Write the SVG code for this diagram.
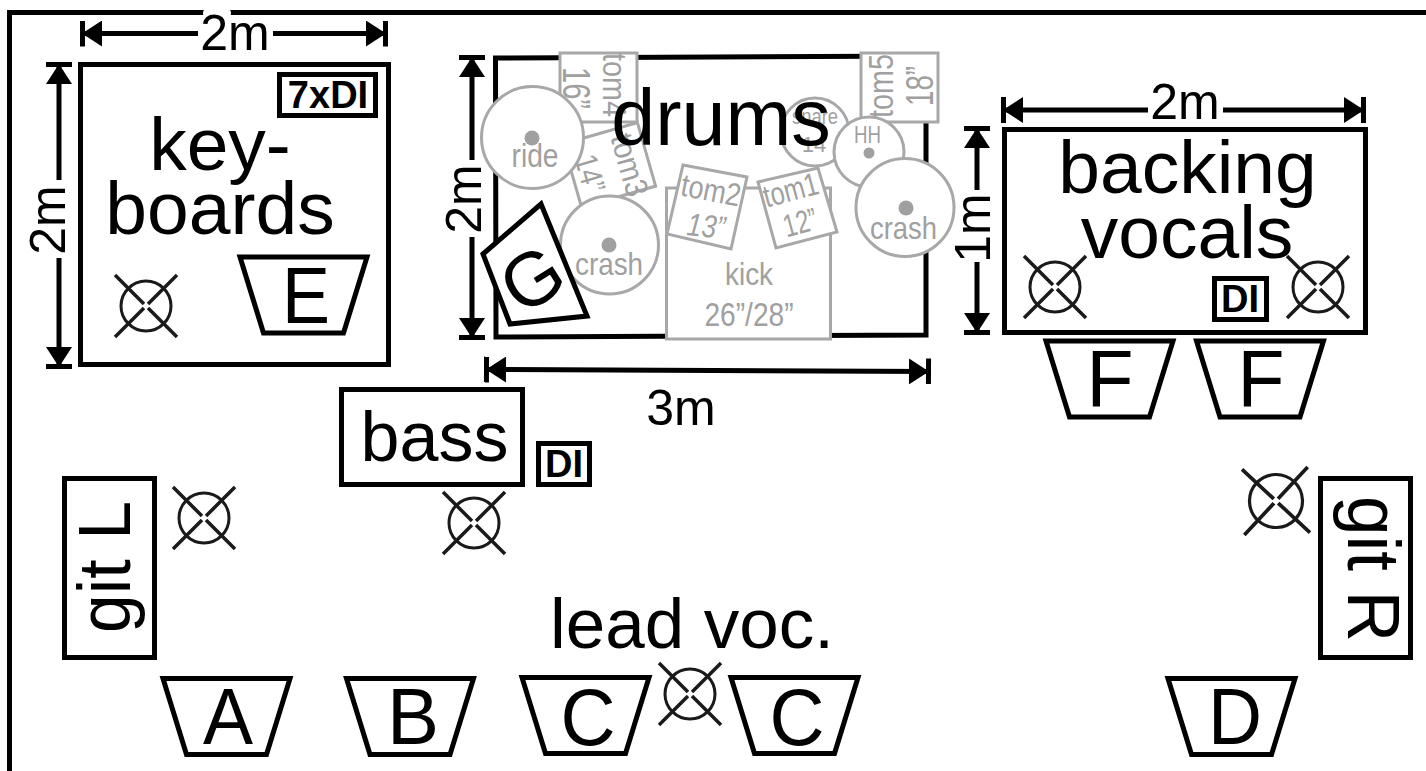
<svg xmlns="http://www.w3.org/2000/svg" width="1426" height="771" viewBox="0 0 1426 771">
<defs>
<marker id="a" viewBox="0 0 27 26" refX="25" refY="13" markerWidth="27" markerHeight="26" markerUnits="userSpaceOnUse" orient="auto-start-reverse"><path d="M3 0L23 13L3 26Z" fill="#000"/><path d="M22.500 0V26" stroke="#000" stroke-width="5" fill="none"/></marker>
<g id="mic"><circle r="25" fill="none" stroke="#1a1a1a" stroke-width="3"/><path d="M-31-31L-2-2M31-31L2-2M-31 31L-2 2M31 31L2 2" fill="none" stroke="#1a1a1a" stroke-width="3.500"/></g>
<path id="wedge" d="M-63.500-38H63.500L40 38H-40Z" class="k"/>
</defs>
<style>
text{font-family:"Liberation Sans",Arial,sans-serif;fill:#000;text-anchor:middle}
.k{fill:#fff;stroke:#000;stroke-width:5}
.g{fill:#fff;stroke:#a8a8a8;stroke-width:3}
text.gt{fill:#a0a0a0}
.d{fill:#a0a0a0;stroke:none}
.line{fill:none;stroke:#000;stroke-width:5;marker-start:url(#a);marker-end:url(#a)}
.ls{fill:none;stroke:#000;stroke-width:5;marker-start:url(#a)}
.le{fill:none;stroke:#000;stroke-width:5;marker-end:url(#a)}
.w{font-size:80px}
.b{font-weight:bold;font-size:38px}
.h{font-size:50px}
</style>
<rect width="1426" height="771" fill="#fff"/>
<path id="frame" d="M9.500 771V12.500H1426" fill="none" stroke="#000" stroke-width="5"/>

<g id="drums">
<path d="M495.500 58L926 56V335L496 337Z" fill="#fff" stroke="#000" stroke-width="5"/>
<g id="tom4"><rect x="560" y="53" width="77" height="69" class="g"/><text transform="translate(603 85) rotate(90)" font-size="33" class="gt" textLength="64" lengthAdjust="spacingAndGlyphs">tom4</text><text transform="translate(563 88) rotate(90)" font-size="38" class="gt" textLength="42" lengthAdjust="spacingAndGlyphs">16”</text></g>
<g id="tom3"><g transform="translate(609.500 165) rotate(-16)"><rect x="-38.500" y="-33" width="77" height="66" class="g"/></g><text transform="translate(619 168) rotate(74)" font-size="32" class="gt" textLength="64" lengthAdjust="spacingAndGlyphs">tom3</text><text transform="translate(579.500 176.500) rotate(74)" font-size="32" class="gt" textLength="38" lengthAdjust="spacingAndGlyphs">14”</text></g>
<g id="kick"><rect x="666.500" y="188" width="164" height="151" class="g"/><text x="749" y="285" font-size="32" class="gt" textLength="48" lengthAdjust="spacingAndGlyphs">kick</text><text x="749" y="326" font-size="33" class="gt" textLength="89" lengthAdjust="spacingAndGlyphs">26”/28”</text></g>
<g id="tom2"><path d="M683 165L747 177L731 249L667 234Z" class="g"/><text transform="translate(709 201) rotate(11)" font-size="32" class="gt" textLength="60" lengthAdjust="spacingAndGlyphs">tom2</text><text transform="translate(705 237) rotate(6)" font-size="32" font-style="italic" class="gt" textLength="38" lengthAdjust="spacingAndGlyphs">13”</text></g>
<g id="tom1"><path d="M758 182L818 168L837 232L776 248Z" class="g"/><text transform="translate(793.500 200.500) rotate(-15)" font-size="32" class="gt" textLength="56" lengthAdjust="spacingAndGlyphs">tom1</text><text transform="translate(803 233) rotate(-15)" font-size="32" class="gt" textLength="34" lengthAdjust="spacingAndGlyphs">12”</text></g>
<g id="tom5"><rect x="861" y="53" width="77" height="69" class="g"/><text transform="translate(893 86) rotate(-90)" font-size="35" class="gt" textLength="64" lengthAdjust="spacingAndGlyphs">tom5</text><text transform="translate(933 86) rotate(-90)" font-size="38" class="gt" textLength="40" lengthAdjust="spacingAndGlyphs">18”</text></g>
<g id="ride"><circle cx="532.500" cy="137.500" r="51" class="g"/><circle cx="532" cy="138" r="7.500" class="d"/><text x="535" y="167" font-size="34" class="gt" textLength="47" lengthAdjust="spacingAndGlyphs">ride</text></g>
<g id="snare"><circle cx="815" cy="132" r="34" class="g"/><text x="815" y="124" font-size="22" class="gt" textLength="46" lengthAdjust="spacingAndGlyphs">snare</text><text x="814" y="152" font-size="22" class="gt">14</text></g>
<g id="hh"><circle cx="869" cy="152" r="35" class="g"/><circle cx="869" cy="153" r="5.500" class="d"/><text x="867.500" y="143" font-size="24" class="gt" textLength="27" lengthAdjust="spacingAndGlyphs">HH</text></g>
<g id="crash1"><circle cx="609.500" cy="245" r="49" class="g"/><circle cx="609" cy="245" r="7.500" class="d"/><text x="609" y="275" font-size="32" class="gt" textLength="68" lengthAdjust="spacingAndGlyphs">crash</text></g>
<g id="crash2"><circle cx="905" cy="207.500" r="49" class="g"/><circle cx="906" cy="208" r="7.500" class="d"/><text x="903.500" y="239" font-size="32" class="gt" textLength="67" lengthAdjust="spacingAndGlyphs">crash</text></g>
<text id="drums-label" x="721" y="145" font-size="79">drums</text>
<g id="G"><path d="M483 254L541 204L587 316L510 324Z" class="k"/><text transform="translate(546 301) rotate(-32)" font-size="76">G</text></g>
</g>

<g id="dim-drums">
<path class="ls" d="M472 55V160"/>
<path class="le" d="M472 237V340"/>
<text class="h" transform="translate(481 199) rotate(-90)">2m</text>
<path class="line" d="M484 369.500L931 371.500"/>
<text x="681" y="425" class="h">3m</text>
</g>

<g id="keyboards">
<rect x="80.500" y="64.500" width="308" height="300" class="k"/>
<text x="220" y="170" font-size="75">key-</text>
<text x="220" y="234" font-size="75">boards</text>
<g id="di7"><rect x="279.500" y="74.500" width="96" height="41" class="k"/><text x="328" y="108" class="b">7xDI</text></g>
<use href="#mic" x="146" y="306"/>
<g id="wedge-E"><use href="#wedge" x="303.500" y="295"/><text x="306" y="323" class="w" textLength="48" lengthAdjust="spacingAndGlyphs">E</text></g>
</g>
<g id="dim-keyboards">
<rect x="203" y="9" width="28" height="8" rx="4" fill="#fff"/>
<path class="ls" d="M80 33.500H198"/>
<path class="le" d="M273 33.500H388"/>
<text class="h" x="235" y="50">2m</text>
<path class="ls" d="M59 62V180"/>
<path class="le" d="M59 258V369"/>
<text class="h" transform="translate(65 220) rotate(-90)">2m</text>
</g>

<g id="backing-vocals">
<rect x="1004.500" y="129.500" width="361" height="203" class="k"/>
<text x="1187.500" y="193" font-size="75">backing</text>
<text x="1187" y="258" font-size="75">vocals</text>
<use href="#mic" x="1055" y="287"/>
<use href="#mic" x="1318" y="287"/>
<g id="di-bv"><rect x="1214.500" y="278.500" width="52" height="41" class="k"/><text x="1240" y="312" class="b">DI</text></g>
</g>
<g id="dim-bv">
<path class="ls" d="M1001 110H1148"/>
<path class="le" d="M1223 110H1366"/>
<text class="h" x="1185" y="119">2m</text>
<path class="ls" d="M977 126V190"/>
<path class="le" d="M977 262V335"/>
<text class="h" transform="translate(990 228) rotate(-90)">1m</text>
</g>

<g id="wedge-F1"><use href="#wedge" x="1109.500" y="379"/><text x="1110" y="406" class="w" textLength="47" lengthAdjust="spacingAndGlyphs">F</text></g>
<g id="wedge-F2"><use href="#wedge" x="1260" y="379"/><text x="1261" y="406" class="w" textLength="47" lengthAdjust="spacingAndGlyphs">F</text></g>

<g id="bass"><rect x="341.500" y="389.500" width="181" height="95" class="k"/><text x="434.500" y="461" font-size="70">bass</text></g>
<g id="di-bass"><rect x="538.500" y="443.500" width="51" height="41" class="k"/><text x="564" y="477" class="b">DI</text></g>
<use id="mic-bass" href="#mic" x="474" y="523"/>
<use id="mic-gitl" href="#mic" x="204" y="518"/>
<use id="mic-gitr" href="#mic" transform="translate(1276 501) rotate(-2) scale(1.060)"/>
<use id="mic-lead" href="#mic" x="690" y="694"/>

<g id="git-l"><rect x="64.500" y="478.500" width="90" height="179" class="k"/><text transform="translate(130 567) rotate(-90)" font-size="74" textLength="132" lengthAdjust="spacingAndGlyphs">git L</text></g>
<g id="git-r"><rect x="1320.500" y="478.500" width="90" height="179" class="k"/><text transform="translate(1348 569) rotate(90)" font-size="74" textLength="146" lengthAdjust="spacingAndGlyphs">git R</text></g>
<text id="lead-voc" x="692" y="648" font-size="71">lead voc.</text>

<g id="wedge-A"><use href="#wedge" x="226.500" y="716.500"/><text x="228" y="744" class="w" textLength="50" lengthAdjust="spacingAndGlyphs">A</text></g>
<g id="wedge-B"><use href="#wedge" x="410" y="716.500"/><text x="413" y="744" class="w" textLength="52" lengthAdjust="spacingAndGlyphs">B</text></g>
<g id="wedge-C1"><use href="#wedge" x="585.500" y="715.500"/><text x="588" y="745" class="w" textLength="55" lengthAdjust="spacingAndGlyphs">C</text></g>
<g id="wedge-C2"><use href="#wedge" x="794.500" y="715.500"/><text x="797" y="745" class="w" textLength="55" lengthAdjust="spacingAndGlyphs">C</text></g>
<g id="wedge-D"><use href="#wedge" x="1231.500" y="716.500"/><text x="1235" y="744" class="w" textLength="54" lengthAdjust="spacingAndGlyphs">D</text></g>
</svg>
